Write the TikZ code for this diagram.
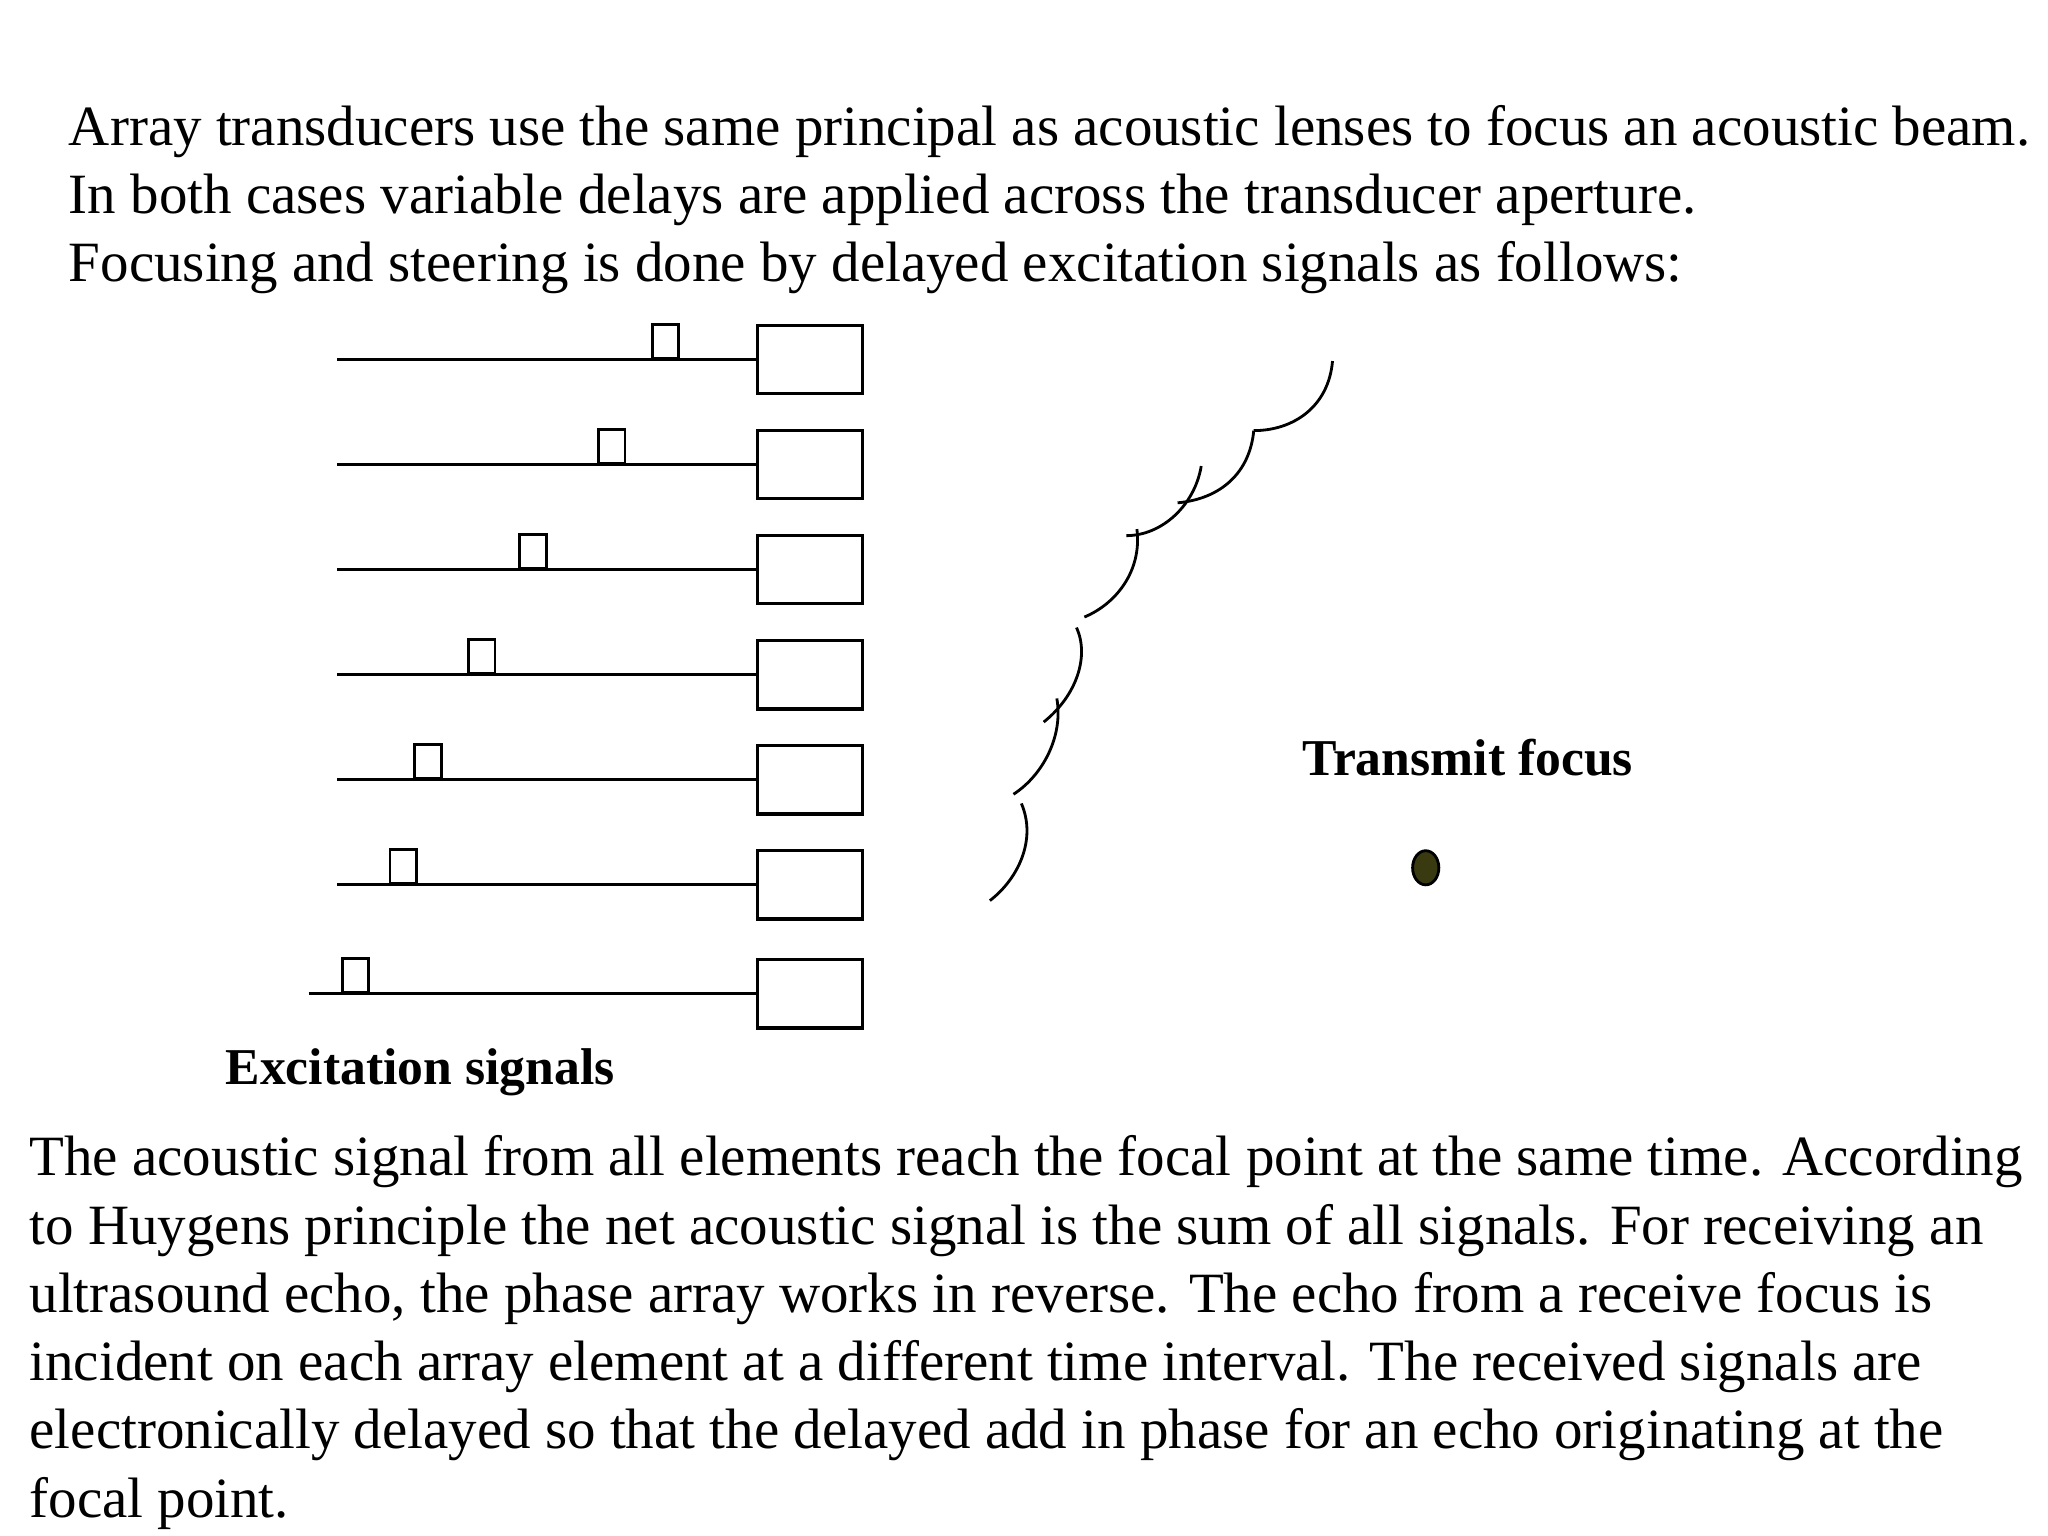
\documentclass[tikz,border=0pt]{standalone}
\usepackage{fontspec}
\setmainfont{Liberation Serif}
\usetikzlibrary{shapes.geometric}
\definecolor{dotc}{HTML}{3A3A10}
\begin{document}
\begin{tikzpicture}[x=0.013128cm,y=-0.013128cm,
  txt/.style={anchor=west,inner sep=0pt,font=\fontsize{16.2}{20}\selectfont},
  lbl/.style={inner sep=0pt,font=\fontsize{14.7}{18}\selectfont\bfseries},
  elem/.style={draw,line width=0.9pt,minimum width=80*0.013128cm,minimum height=52*0.013128cm,inner sep=0pt},
  pulse/.style={draw,line width=0.8pt,minimum width=20*0.013128cm,minimum height=26*0.013128cm,inner sep=0pt,anchor=south},
  wire/.style={line width=0.8pt},
  wave/.style={line width=0.8pt}]
\useasboundingbox (0,0) rectangle (1560,1170);
\node[txt] (t1) at (52,100) {Array transducers use the same principal as acoustic lenses to focus an acoustic beam.};
\node[txt] (t2) at (52,152) {In both cases variable delays are applied across the transducer aperture.};
\node[txt] (t3) at (52,204) {Focusing and steering is done by delayed excitation signals as follows:};
\foreach \i/\y/\px/\sx in {1/274/507/257,2/354/466/257,3/434/406/257,4/514/367/257,5/594/326/257,6/674/307/257,7/757/271/235}{
  \node[elem,anchor=west] (e\i) at (576,\y) {};
  \coordinate (s\i) at (\sx,\y);
  \draw[wire] (s\i) -- (e\i.west);
  \node[pulse] (p\i) at (\px,\y) {};
}
\draw[wave] (1015,275) .. controls (1012,310) and (985,328) .. (955,328);
\draw[wave] (955,328) .. controls (952,360) and (930,380) .. (897,383);
\draw[wave] (915,355) .. controls (910,385) and (885,408) .. (858,408);
\draw[wave] (866,403) .. controls (870,435) and (850,460) .. (826,470);
\draw[wave] (820,478) .. controls (830,500) and (820,530) .. (795,550);
\draw[wave] (805,532) .. controls (810,560) and (795,590) .. (772,605);
\draw[wave] (778,612) .. controls (790,640) and (775,670) .. (754,686);
\node[lbl] (tf) at (1118,577) {Transmit focus};
\node[ellipse,draw,fill=dotc,line width=0.8pt,minimum width=20*0.013128cm,minimum height=26*0.013128cm,inner sep=0pt] (f) at (1086,661) {};
\node[lbl] (ex) at (320,817) {Excitation signals};
\node[txt] (b1) at (22,885) {The acoustic signal from all elements reach the focal point at the same time. According};
\node[txt] (b2) at (22,937) {to Huygens principle the net acoustic signal is the sum of all signals. For receiving an};
\node[txt] (b3) at (22,989) {ultrasound echo, the phase array works in reverse. The echo from a receive focus is};
\node[txt] (b4) at (22,1041) {incident on each array element at a different time interval. The received signals are};
\node[txt] (b5) at (22,1093) {electronically delayed so that the delayed add in phase for an echo originating at the};
\node[txt] (b6) at (22,1145) {focal point.};
\end{tikzpicture}
\end{document}
